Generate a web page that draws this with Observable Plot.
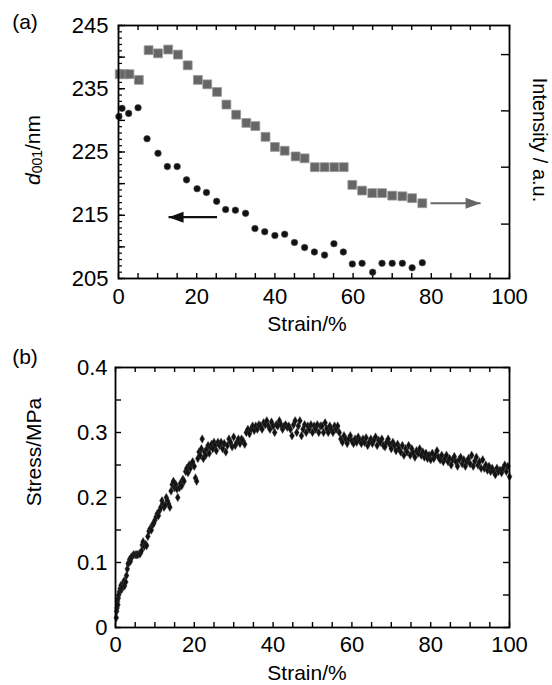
<!DOCTYPE html>
<html>
<head>
<meta charset="utf-8">
<script src="https://cdn.jsdelivr.net/npm/d3@7"></script>
<script src="https://cdn.jsdelivr.net/npm/@observablehq/plot@0.6"></script>
<style>
  body { margin: 0; background: #fff; }
  #wrap { width: 552px; height: 685px; position: relative; background: #fff; overflow: hidden; }
  #wrap svg { display: block; }
</style>
</head>
<body>
<div id="wrap"></div>
<script>
// ---------- Panel (a) data ----------
const aXTickLabels = [0, 20, 40, 60, 80, 100];
const aYTickLabels = [205, 215, 225, 235, 245];
const aXTicks = d3.range(0, 101, 5);
const aYMinorTicks = d3.range(205, 246, 1);
const aYMajorTicks = d3.range(205, 246, 5);
// intensity axis ticks (right side, unlabeled), positioned in the shared frame
const intensityTicks = [240.4, 231.5, 222.6, 213.6];

// d001 spacing (black markers)
const dStrain = [0.1, 0.9, 2.6, 5.0, 7.3, 10.1, 12.5, 15.0, 17.4, 20.1, 22.5, 25.1, 27.4, 29.9, 32.5, 34.9,
  37.4, 40.0, 42.5, 45.0, 47.6, 50.1, 52.7, 55.1, 57.5, 59.8, 62.3, 65.0, 67.4, 70.0, 72.6, 75.1, 77.7];
const dValue = [230.6, 231.9, 231.1, 232.0, 227.1, 224.8, 222.7, 222.7, 220.6, 219.2, 218.6, 217.2, 215.9, 215.8, 215.3, 212.9,
  212.4, 211.8, 212.0, 210.7, 209.9, 209.2, 208.7, 210.5, 209.2, 207.3, 207.4, 206.0, 207.4, 207.4, 207.4, 206.7, 207.5];

// intensity (grey squares), drawn in the same frame
const iStrain = [0.3, 1.5, 2.8, 5.2, 7.7, 10.1, 12.7, 15.2, 17.7, 20.3, 22.7, 25.2, 27.6, 30.1, 32.7, 35.0,
  37.6, 40.0, 42.5, 45.3, 47.6, 50.2, 52.7, 55.2, 57.6, 59.8, 62.3, 64.9, 67.4, 70.0, 72.6, 75.1, 77.7];
const iValue = [237.3, 237.3, 237.3, 236.4, 241.1, 240.6, 241.2, 240.4, 238.7, 236.4, 235.7, 234.5, 232.5, 230.9, 229.6, 229.1,
  227.4, 225.8, 225.2, 224.3, 224.0, 222.6, 222.6, 222.6, 222.6, 219.8, 218.9, 218.5, 218.5, 218.1, 218.0, 217.7, 216.9];

// arrows: from strain, to strain, level, colour
const arrowFrom = [25.2, 79.8];
const arrowTo = [12.8, 92.6];
const arrowLevel = [214.7, 216.9];
const arrowColor = ["#111", "#666"];

// ---------- Panel (b) data ----------
const bXTickLabels = [0, 20, 40, 60, 80, 100];
const bYTickLabels = [0, 0.1, 0.2, 0.3, 0.4];
const bXTicks = d3.range(0, 101, 5);
const bYTicks = [0, 0.05, 0.1, 0.15, 0.2, 0.25, 0.3, 0.35, 0.4];

// stress-strain scatter [strain %, stress MPa]
const stressCurve = [
 [0.2,0.015],[0.3,0.025],[0.4,0.03],[0.5,0.04],[0.6,0.035],[0.7,0.045],[0.8,0.05],[1.0,0.055],[1.2,0.06],[1.4,0.065],
 [1.5,0.058],[1.7,0.062],[2.0,0.068],[2.2,0.072],[2.3,0.064],[2.6,0.07],[2.8,0.08],[3.0,0.09],[3.2,0.098],[3.4,0.1],
 [3.6,0.105],[3.8,0.102],[4.0,0.108],[4.3,0.11],[4.6,0.112],[5.0,0.112],[5.3,0.112],[5.6,0.112],[6.0,0.113],[6.3,0.114],
 [6.6,0.118],[6.8,0.127],[7.0,0.132],[7.3,0.125],[7.6,0.128],[7.9,0.126],[8.2,0.14],[8.5,0.148],[8.8,0.152],[9.1,0.15],
 [9.4,0.158],[9.7,0.16],[10.0,0.165],[10.3,0.17],[10.6,0.175],[10.9,0.172],[11.2,0.18],[11.5,0.185],[11.8,0.195],[12.0,0.19],
 [12.3,0.185],[12.6,0.188],[12.9,0.2],[13.2,0.195],[13.5,0.19],[13.8,0.185],[14.1,0.21],[14.4,0.22],[14.7,0.225],[15.0,0.215],
 [15.3,0.22],[15.6,0.213],[15.8,0.2],[16.2,0.215],[16.5,0.222],[16.8,0.218],[17.1,0.228],[17.4,0.225],[17.8,0.24],[18.1,0.245],
 [18.4,0.238],[18.7,0.25],[19.0,0.245],[19.3,0.252],[19.6,0.255],[20.0,0.248],[20.3,0.23],[20.6,0.225],[20.9,0.26],[21.2,0.27],
 [21.5,0.265],[21.8,0.275],[22.0,0.29],[22.3,0.26],[22.6,0.27],[22.9,0.265],[23.2,0.275],[23.5,0.28],[23.8,0.268],[24.1,0.278],
 [24.4,0.282],[24.7,0.275],[25.0,0.285],[25.3,0.28],[25.6,0.272],[26.0,0.285],[26.4,0.28],[26.8,0.285],[27.2,0.275],[27.6,0.283],
 [28.0,0.27],[28.4,0.28],[28.8,0.29],[29.2,0.285],[29.6,0.278],[30.0,0.293],[30.4,0.28],[30.8,0.285],[31.2,0.29],[31.6,0.283],
 [32.0,0.29],[32.4,0.287],[32.8,0.282],[33.2,0.3],[33.6,0.305],[34.0,0.298],[34.4,0.305],[34.8,0.31],[35.2,0.303],[35.6,0.31],
 [36.0,0.305],[36.4,0.312],[36.8,0.31],[37.2,0.305],[37.6,0.315],[38.0,0.312],[38.4,0.318],[38.8,0.31],[39.2,0.305],[39.6,0.316],
 [40.0,0.31],[40.4,0.3],[40.8,0.312],[41.2,0.31],[41.6,0.318],[42.0,0.312],[42.4,0.305],[42.8,0.31],[43.2,0.312],[43.6,0.308],
 [44.0,0.31],[44.4,0.305],[44.8,0.295],[45.2,0.312],[45.6,0.318],[46.0,0.3],[46.4,0.31],[46.8,0.318],[47.2,0.295],[47.6,0.305],
 [48.0,0.312],[48.4,0.3],[48.8,0.31],[49.2,0.305],[49.6,0.312],[50.0,0.3],[50.4,0.31],[50.8,0.305],[51.2,0.312],[51.6,0.3],
 [52.0,0.31],[52.4,0.31],[52.8,0.3],[53.2,0.315],[53.6,0.306],[54.0,0.3],[54.4,0.31],[54.8,0.305],[55.2,0.3],[55.6,0.31],
 [56.0,0.305],[56.4,0.31],[56.8,0.3],[57.2,0.29],[57.6,0.285],[58.0,0.295],[58.4,0.29],[58.8,0.283],[59.2,0.29],[59.6,0.295],
 [60.0,0.287],[60.4,0.283],[60.8,0.29],[61.2,0.285],[61.6,0.293],[62.0,0.288],[62.4,0.283],[62.8,0.29],[63.2,0.285],[63.6,0.292],
 [64.0,0.28],[64.4,0.285],[64.8,0.29],[65.2,0.283],[65.6,0.288],[66.0,0.293],[66.4,0.28],[66.8,0.288],[67.2,0.285],[67.6,0.29],
 [68.0,0.28],[68.4,0.278],[68.8,0.285],[69.2,0.29],[69.6,0.282],[70.0,0.275],[70.4,0.285],[70.8,0.28],[71.2,0.272],[71.6,0.282],
 [72.0,0.275],[72.4,0.27],[72.8,0.28],[73.2,0.265],[73.6,0.275],[74.0,0.27],[74.4,0.28],[74.8,0.265],[75.2,0.275],[75.6,0.268],
 [76.0,0.262],[76.4,0.272],[76.8,0.268],[77.2,0.275],[77.6,0.265],[78.0,0.27],[78.4,0.262],[78.8,0.268],[79.2,0.26],[79.6,0.265],
 [80.0,0.258],[80.4,0.268],[80.8,0.26],[81.2,0.265],[81.6,0.272],[82.0,0.262],[82.4,0.258],[82.8,0.265],[83.2,0.255],[83.6,0.26],
 [84.0,0.265],[84.4,0.255],[84.8,0.26],[85.2,0.25],[85.6,0.258],[86.0,0.263],[86.4,0.255],[86.8,0.248],[87.2,0.258],[87.6,0.262],
 [88.0,0.252],[88.4,0.258],[88.8,0.248],[89.2,0.255],[89.6,0.26],[90.0,0.252],[90.4,0.265],[90.8,0.248],[91.2,0.256],[91.6,0.262],
 [92.0,0.25],[92.4,0.255],[92.8,0.245],[93.2,0.258],[93.6,0.245],[94.0,0.25],[94.4,0.242],[94.8,0.248],[95.2,0.24],[95.6,0.245],
 [96.0,0.24],[96.4,0.235],[96.8,0.245],[97.2,0.24],[97.6,0.242],[98.0,0.238],[98.4,0.245],[98.8,0.25],[99.2,0.24],[99.6,0.248],
 [100,0.232]
];

// ---------- layout ----------
const FONT = '"Liberation Sans", Arial, Helvetica, sans-serif';
const FS = 22;
const W = 552;

function addText(svg, x, y, str, opts = {}) {
  const t = d3.select(svg).append("text")
    .attr("x", x).attr("y", y)
    .attr("text-anchor", opts.anchor || "middle")
    .attr("dominant-baseline", "central")
    .attr("font-family", FONT)
    .attr("font-size", opts.size || 21)
    .attr("fill", "#000");
  if (opts.rotate) t.attr("transform", `rotate(${opts.rotate} ${x} ${y})`);
  if (str != null) t.text(str);
  return t;
}

// arrowhead symbol with the tip at the origin, pointing right
const arrowHead = {
  draw(context) {
    const L = 15, H = 5.5;
    context.moveTo(0, 0);
    context.lineTo(-L, -H);
    context.lineTo(-L, H);
    context.closePath();
  }
};

// ---------- Panel (a) ----------
const A = { ml: 118, mr: 43, mt: 25, mb: 62, h: 340 };
const aFW = W - A.ml - A.mr, aFH = A.h - A.mt - A.mb;
const arrows = arrowFrom.map((f, i) => ({ from: f, to: arrowTo[i], y: arrowLevel[i], c: arrowColor[i], rot: arrowTo[i] > f ? 0 : 180 }));

const plotA = Plot.plot({
  width: W, height: A.h,
  marginLeft: A.ml, marginRight: A.mr, marginTop: A.mt, marginBottom: A.mb,
  x: { domain: [0, 100] },
  y: { domain: [205, 245] },
  style: { fontFamily: FONT, fontSize: FS + "px", color: "#000", background: "#fff", overflow: "visible" },
  marks: [
    Plot.tickX(aXTicks, { x: d => d, insetTop: aFH - 5, stroke: "#000", strokeWidth: 1.4 }),
    Plot.tickX(aXTicks, { x: d => d, insetBottom: aFH - 5, stroke: "#000", strokeWidth: 1.4 }),
    Plot.tickY(aYMinorTicks, { y: d => d, insetRight: aFW - 4, stroke: "#000", strokeWidth: 1.2 }),
    Plot.tickY(aYMajorTicks, { y: d => d, insetRight: aFW - 7, stroke: "#000", strokeWidth: 1.4 }),
    Plot.tickY(intensityTicks, { y: d => d, insetLeft: aFW - 8, stroke: "#000", strokeWidth: 1.4 }),
    Plot.axisX({ ticks: aXTickLabels, tickSize: 0, tickPadding: 10, label: null, tickFormat: d => String(d) }),
    Plot.axisY({ ticks: aYTickLabels, tickSize: 0, tickPadding: 10, label: null, tickFormat: d => String(d) }),
    Plot.link(arrows, { x1: "from", x2: "to", y1: "y", y2: "y", stroke: "c", strokeWidth: 2.2 }),
    Plot.dot(arrows, { x: "to", y: "y", symbol: arrowHead, r: 1, fill: "c", stroke: "none", rotate: "rot" }),
    Plot.dot(iStrain, { x: d => d, y: (d, i) => iValue[i], symbol: "square", r: 5, fill: "#666", stroke: "#999", strokeWidth: 0.8 }),
    Plot.dot(dStrain, { x: d => d, y: (d, i) => dValue[i], symbol: "circle", r: 3.3, fill: "#111", stroke: "#555", strokeWidth: 0.6 }),
    Plot.frame({ stroke: "#000", strokeWidth: 1.8 })
  ]
});

// ---------- Panel (b) ----------
const B = { ml: 115, mr: 43, mt: 27, mb: 58, h: 345 };
const bFW = W - B.ml - B.mr, bFH = B.h - B.mt - B.mb;
const plotB = Plot.plot({
  width: W, height: B.h,
  marginLeft: B.ml, marginRight: B.mr, marginTop: B.mt, marginBottom: B.mb,
  x: { domain: [0, 100] },
  y: { domain: [0, 0.4] },
  style: { fontFamily: FONT, fontSize: FS + "px", color: "#000", background: "#fff", overflow: "visible" },
  marks: [
    Plot.tickX(bXTicks, { x: d => d, insetTop: bFH - 5, stroke: "#000", strokeWidth: 1.4 }),
    Plot.tickX(bXTicks, { x: d => d, insetBottom: bFH - 5, stroke: "#000", strokeWidth: 1.4 }),
    Plot.tickY(bYTicks, { y: d => d, insetRight: bFW - 6, stroke: "#000", strokeWidth: 1.4 }),
    Plot.tickY(bYTicks, { y: d => d, insetLeft: bFW - 6, stroke: "#000", strokeWidth: 1.4 }),
    Plot.axisX({ ticks: bXTickLabels, tickSize: 0, tickPadding: 9, label: null, tickFormat: d => String(d) }),
    Plot.axisY({ ticks: bYTickLabels, tickSize: 0, tickPadding: 8, label: null, tickFormat: d => String(d) }),
    Plot.dot(stressCurve, { x: d => d[0], y: d => d[1], symbol: "diamond", r: 2.6, fill: "#111", stroke: "#444", strokeWidth: 0.4 }),
    Plot.frame({ stroke: "#000", strokeWidth: 1.8 })
  ]
});

const wrap = document.getElementById("wrap");
wrap.appendChild(plotA);
wrap.appendChild(plotB);

// titles for panel (a)
addText(plotA, 25, 21, "(a)");
addText(plotA, 307, 323, "Strain/%");
const dl = addText(plotA, 32, 150, null, { rotate: -90 });
dl.append("tspan").attr("font-style", "italic").text("d");
dl.append("tspan").attr("font-size", 14).attr("dy", 5).text("001");
dl.append("tspan").attr("dy", -5).text("/nm");
addText(plotA, 540, 140, "Intensity / a.u.", { rotate: 90, size: 20 });

// titles for panel (b)
addText(plotB, 25, 16, "(b)");
addText(plotB, 307, 332, "Strain/%");
addText(plotB, 33, 112, "Stress/MPa", { rotate: -90 });
</script>
</body>
</html>
